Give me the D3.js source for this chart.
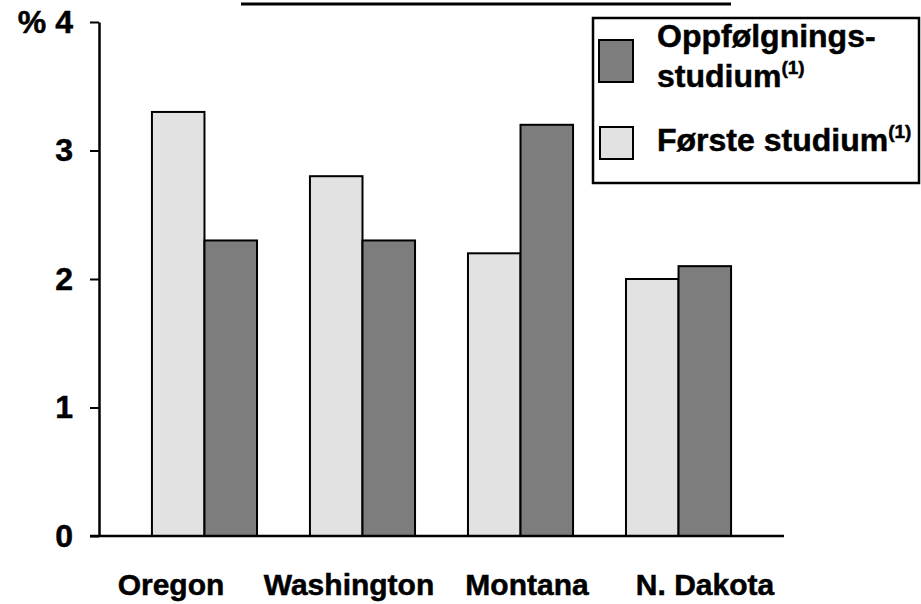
<!DOCTYPE html>
<html>
<head>
<meta charset="utf-8">
<script src="https://cdn.jsdelivr.net/npm/d3@7"></script>
<style>
  body { margin: 0; background: #fff; }
  svg { font-family: "Liberation Sans", Arial, sans-serif; font-weight: bold; }
  text { stroke: #000; stroke-width: 0.5px; }
</style>
</head>
<body>
<svg id="chart" width="921" height="604"></svg>
<script>
// data
var states = ["Oregon", "Washington", "Montana", "N. Dakota"];
var forste = [3.3, 2.8, 2.2, 2.0];        // Første studium (light)
var oppfolg = [2.3, 2.3, 3.2, 2.1];       // Oppfølgningsstudium (dark)
var yTicks = [0, 1, 2, 3, 4];

var svg = d3.select("#chart");

var lightFill = "#e2e2e2",
    darkFill = "#7d7d7d";

var rows = states.map(function (s, i) {
    return { state: s, values: [
        { key: "forste", v: forste[i] },
        { key: "oppfolg", v: oppfolg[i] }
    ] };
});

// scales
var y = d3.scaleLinear().domain([0, 4]).range([536, 22]);
var x0 = d3.scaleBand().domain(states).range([99, 784])
    .paddingInner(0.335).paddingOuter(0.335);
var x1 = d3.scaleBand().domain(["forste", "oppfolg"]).range([0, x0.bandwidth()]);
// the category labels sit on their own spacing in the original
var xLabel = d3.scalePoint().domain(states).range([171, 705]);

// title underline (title itself is cropped off at the top)
svg.append("line")
    .attr("x1", 241).attr("x2", 731)
    .attr("y1", 4).attr("y2", 4)
    .attr("stroke", "#000").attr("stroke-width", 3);

// bars
var groups = svg.selectAll(".grp")
    .data(rows)
    .enter().append("g")
    .attr("class", "grp")
    .attr("transform", function (d) { return "translate(" + x0(d.state) + ",0)"; });

groups.selectAll("rect")
    .data(function (d) { return d.values; })
    .enter().append("rect")
    .attr("x", function (d) { return x1(d.key); })
    .attr("y", function (d) { return y(d.v); })
    .attr("width", x1.bandwidth())
    .attr("height", function (d) { return y(0) - y(d.v); })
    .attr("fill", function (d) { return d.key == "forste" ? lightFill : darkFill; })
    .attr("stroke", "#000")
    .attr("stroke-width", 2);

// y axis
var yAxis = d3.axisLeft(y)
    .tickValues(yTicks)
    .tickSize(9)
    .tickSizeOuter(0)
    .tickPadding(17)
    .tickFormat(function (d) { return d == 4 ? "% 4" : d; });

var gy = svg.append("g")
    .attr("transform", "translate(99,0)")
    .call(yAxis);
gy.select(".domain").attr("stroke-width", 2.5);
gy.selectAll(".tick line").attr("stroke-width", 2);
gy.selectAll(".tick text")
    .attr("font-size", 32)
    .attr("font-family", "'Liberation Sans', Arial, sans-serif")
    .attr("font-weight", "bold")
    .attr("fill", "#000");

// baseline
svg.append("line")
    .attr("x1", 90).attr("x2", 784)
    .attr("y1", y(0)).attr("y2", y(0))
    .attr("stroke", "#000").attr("stroke-width", 2.5);

// category labels
svg.selectAll(".cat")
    .data(states)
    .enter().append("text")
    .attr("class", "cat")
    .attr("x", function (d) { return xLabel(d); })
    .attr("y", 595)
    .attr("text-anchor", "middle")
    .attr("font-size", 30)
    .text(function (d) { return d; });

// legend
var legend = svg.append("g");
legend.append("rect")
    .attr("x", 593).attr("y", 18)
    .attr("width", 326).attr("height", 165)
    .attr("fill", "#fff")
    .attr("stroke", "#000").attr("stroke-width", 2.5);

legend.append("rect")
    .attr("x", 599).attr("y", 40)
    .attr("width", 34).attr("height", 42)
    .attr("fill", darkFill).attr("stroke", "#000").attr("stroke-width", 2);
legend.append("rect")
    .attr("x", 600).attr("y", 127)
    .attr("width", 33).attr("height", 32)
    .attr("fill", lightFill).attr("stroke", "#000").attr("stroke-width", 2);

legend.append("text")
    .attr("x", 657).attr("y", 47)
    .attr("font-size", 32)
    .text("Oppfølgnings-");

var t2 = legend.append("text")
    .attr("x", 657).attr("y", 87)
    .attr("font-size", 32);
t2.append("tspan").text("studium");
t2.append("tspan").attr("font-size", 19).attr("dy", -13).text("(1)");

var t3 = legend.append("text")
    .attr("x", 657).attr("y", 151)
    .attr("font-size", 32);
t3.append("tspan").text("Første studium");
t3.append("tspan").attr("font-size", 19).attr("dy", -13).text("(1)");
</script>
</body>
</html>
